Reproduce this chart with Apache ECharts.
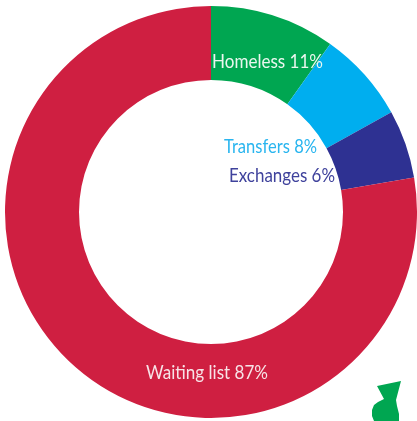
<!DOCTYPE html>
<html><head><meta charset="utf-8">
<style>html,body{margin:0;padding:0;background:#fff}#c{width:417px;height:421px}</style>
<script src="https://cdn.jsdelivr.net/npm/echarts@6/dist/echarts.min.js"></script>
</head><body><div id="c"></div>
<script>
const categories = ['Homeless','Transfers','Exchanges','Waiting list'];
const values = [11,8,6,87];
const colors = ['#00a651','#00aeef','#2e3192','#cf1f41'];
const labelColors = ['#eaf7ef','#29b5ef','#3f429c','#f7e3e7'];
const labelCenters = [[267.5,62],[270.5,147],[282,176],[207,373]];
const labelWidths = [111,93,106,122];
const chart = echarts.init(document.getElementById('c'),null,{renderer:'canvas'});
const font = '19px Lato';
const measure = document.createElement('canvas').getContext('2d');
measure.font = font;
const labels = categories.map((n,i)=>{
  const t = n+' '+values[i]+'%';
  return {type:'text',x:labelCenters[i][0],y:labelCenters[i][1],
    scaleX:labelWidths[i]/measure.measureText(t).width,silent:true,z:10,
    style:{x:0,y:0,text:t,fill:labelColors[i],font:font,textAlign:'center',textVerticalAlign:'middle'}};
});
chart.setOption({
  animation:false,
  series:[{
    type:'pie',
    center:[211,212],
    radius:[132,206],
    startAngle:90,
    clockwise:true,
    silent:true,
    label:{show:false},
    labelLine:{show:false},
    data:categories.map((n,i)=>({name:n,value:values[i],itemStyle:{color:colors[i]}}))
  }],
  graphic:[{type:'polygon',shape:{points:[[377,386],[401,381],[396,400],[397,406],[399,414],[399,421],[374,421],[372,416],[372,410],[374,405],[378,402],[384,399]]},style:{fill:'#00a651'}}].concat(labels)
});
</script></body></html>
